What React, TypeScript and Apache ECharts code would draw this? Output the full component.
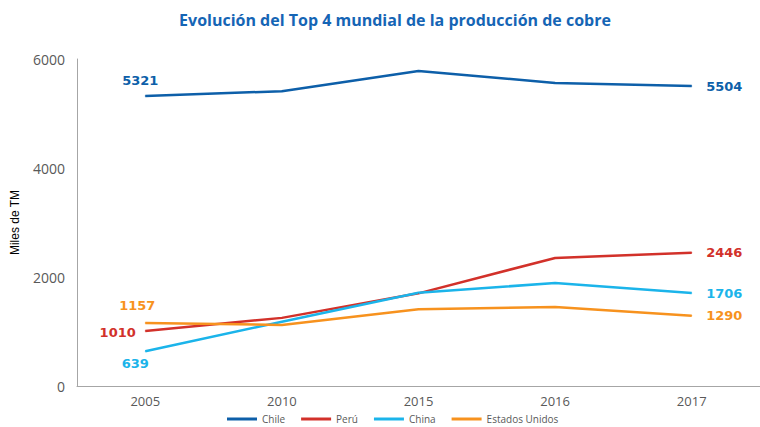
import React, { useEffect, useRef } from "react";
import * as echarts from "echarts";

const years = ["2005", "2010", "2015", "2016", "2017"];
const chile = [5321, 5410, 5780, 5560, 5504];
const peru = [1010, 1250, 1700, 2350, 2446];
const china = [639, 1180, 1710, 1890, 1706];
const usa = [1157, 1120, 1410, 1450, 1290];
const yTicks = [0, 2000, 4000, 6000];

const seriesDefs = [
  { name: "Chile", values: chile, color: "#0d5fa9", firstPos: "top", firstOffset: [-5, -4] },
  { name: "Perú", values: peru, color: "#d2312a", firstPos: "left", firstOffset: [-4, 2] },
  { name: "China", values: china, color: "#1bb4ea", firstPos: "bottom", firstOffset: [-10, 0] },
  { name: "Estados Unidos", values: usa, color: "#f7921e", firstPos: "top", firstOffset: [-8, -5] },
];

export default function App() {
  const ref = useRef<HTMLDivElement>(null);
  useEffect(() => {
    if (!ref.current) return;
    const chart = echarts.init(ref.current, null, { renderer: "svg" });
    const font = "Open Sans";
    const labelFont = "Verdana, DejaVu Sans";
    chart.setOption({
      animation: false,
      title: {
        text: "Evolución del Top 4 mundial de la producción de cobre",
        left: 390,
        textAlign: "center",
        top: 7,
        textStyle: { color: "#1565b5", fontSize: 16, fontWeight: "bold", fontFamily: "Open Sans" },
      },
      legend: {
        top: 409,
        left: 222,
        itemWidth: 30,
        itemHeight: 3,
        itemGap: 16,
        icon: "rect",
        textStyle: { fontSize: 10, color: "#595959", fontFamily: font },
        data: seriesDefs.map((s) => s.name),
      },
      grid: { left: 77, top: 59, width: 685, height: 327 },
      xAxis: {
        type: "category",
        data: years,
        boundaryGap: true,
        axisLine: { lineStyle: { color: "#a6a6a6" } },
        axisTick: { show: false },
        axisLabel: { color: "#595959", fontSize: 13, margin: 8, fontFamily: font },
      },
      yAxis: {
        type: "value",
        min: yTicks[0],
        max: yTicks[yTicks.length - 1],
        interval: 2000,
        name: "Miles de TM",
        nameLocation: "middle",
        nameGap: 56,
        nameRotate: 90,
        nameTextStyle: { color: "#000", fontSize: 12, fontFamily: "Liberation Sans Narrow, Liberation Sans" },
        axisLine: { show: true, lineStyle: { color: "#a6a6a6" } },
        axisTick: { show: false },
        splitLine: { show: false },
        axisLabel: {
          color: "#595959",
          fontSize: 14,
          margin: 12,
          fontFamily: font,
          formatter: (v: number) => String(v),
        },
      },
      series: seriesDefs.map((s) => ({
        name: s.name,
        type: "line",
        symbol: "circle",
        symbolSize: 1,
        showSymbol: true,
        lineStyle: { color: s.color, width: 2.5 },
        itemStyle: { color: s.color },
        data: s.values.map((v, i) => {
          if (i === 0) {
            return {
              value: v,
              label: {
                show: true,
                position: s.firstPos,
                offset: s.firstOffset,
                color: s.color,
                fontWeight: "bold",
                fontSize: 13,
                fontFamily: labelFont,
              },
            };
          }
          if (i === s.values.length - 1) {
            return {
              value: v,
              label: {
                show: true,
                position: "right",
                distance: 14,
                color: s.color,
                fontWeight: "bold",
                fontSize: 13,
                fontFamily: labelFont,
              },
            };
          }
          return v;
        }),
      })),
    });
    return () => chart.dispose();
  }, []);
  return <div ref={ref} style={{ width: 760, height: 427, position: "absolute", left: 0, top: 0 }} />;
}
